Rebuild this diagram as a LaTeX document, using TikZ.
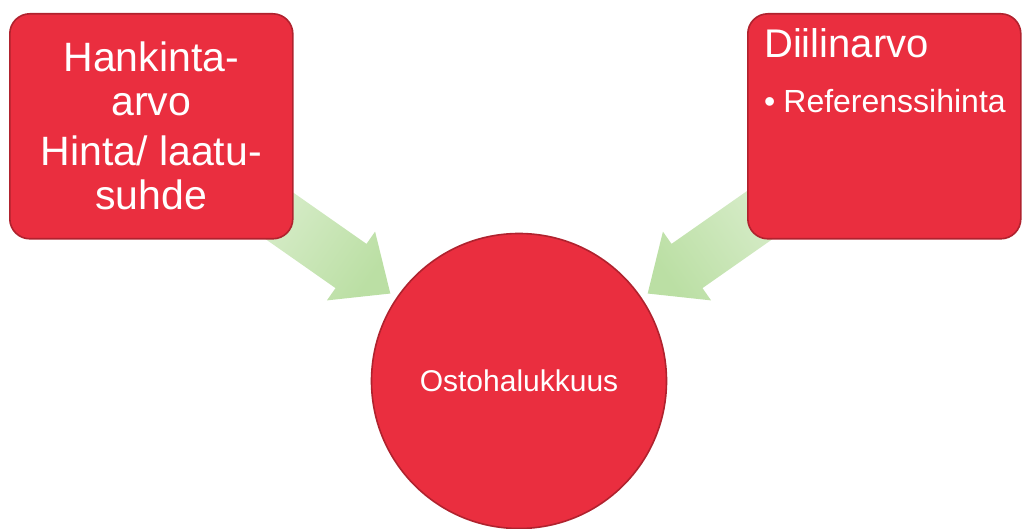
\documentclass[tikz,border=0pt]{standalone}
\usepackage{fontspec}
\setmainfont{Liberation Sans}

\definecolor{boxred}{HTML}{EA2E3F}
\definecolor{boxedge}{HTML}{B0222E}
\definecolor{arrowlight}{HTML}{DDEFD1}
\definecolor{arrowdark}{HTML}{BBDFA4}

\begin{document}
\begin{tikzpicture}[x=1pt,y=-1pt,
  redshape/.style={fill=boxred, draw=boxedge, line width=1.6pt},
  bigtext/.style={text=white, font=\fontsize{41}{44}\selectfont},
  titletext/.style={text=white, font=\fontsize{40}{44}\selectfont},
  midtext/.style={text=white, font=\fontsize{32}{38}\selectfont},
  circtext/.style={text=white, font=\fontsize{30}{36}\selectfont},
  blockarrow/.style={top color=arrowlight, bottom color=arrowdark, shading angle=#1}
]
\useasboundingbox (0,0) rectangle (1022,529);

% anchor points of the two converging arrows (mid of the arrow heads)
\coordinate (lhead) at (351,266);
\coordinate (rhead) at (687,266);

% converging block arrows, drawn first so the boxes cover their tails;
% the shading runs from the pale tail to the greener head
\begin{scope}[shift={(lhead)}, rotate=-35]
  \shade[blockarrow=55] (-130,-27) -- (0,-27) -- (0,-42) -- (48,0)
    -- (0,42) -- (0,27) -- (-130,27) -- cycle;
\end{scope}
\begin{scope}[shift={(rhead)}, rotate=-145]
  \shade[blockarrow=-55] (-130,-27) -- (0,-27) -- (0,-42) -- (48,0)
    -- (0,42) -- (0,27) -- (-130,27) -- cycle;
\end{scope}

% left box
\node[redshape, rounded corners=20pt, minimum width=283pt, minimum height=225pt,
      inner sep=0pt, anchor=north west, bigtext, align=center] (hank) at (9,13)
  {Hankinta-\\arvo\\[6pt]Hinta/ laatu-\\suhde};

% right box
\node[redshape, rounded corners=20pt, minimum width=273pt, minimum height=225pt,
      inner sep=0pt, anchor=north west] (diili) at (747,13) {};
\node[titletext, anchor=base west, inner sep=0pt] (dtitle) at (764,58) {Diilinarvo};
\node[midtext, anchor=base west, inner sep=0pt] (dbullet) at (764,113)
  {\textbullet\hspace{8pt}Referenssihinta};

% centre circle
\node[redshape, circle, minimum size=295pt, inner sep=0pt, circtext] (osto)
  at (519,381) {Ostohalukkuus};

\end{tikzpicture}
\end{document}
